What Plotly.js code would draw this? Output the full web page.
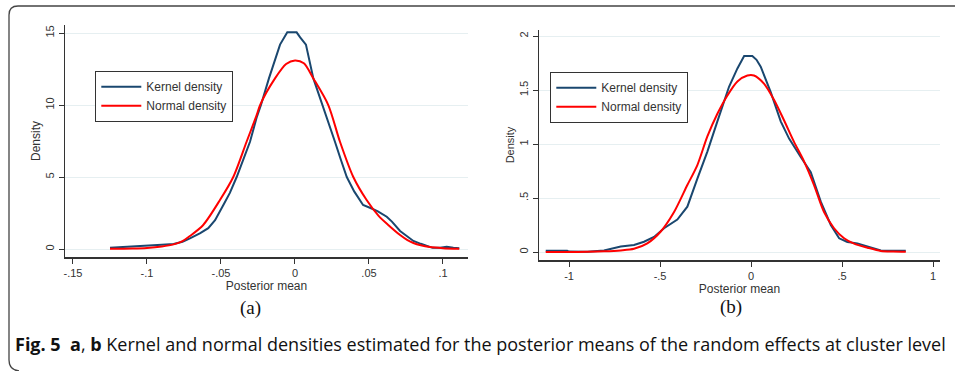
<!DOCTYPE html>
<html>
<head>
<meta charset="utf-8">
<script src="https://cdn.plot.ly/plotly-3.0.1.min.js"></script>
<style>html,body{margin:0;padding:0;background:#fff;}#chart{width:955px;height:371px;}</style>
</head>
<body>
<div id="chart"></div>
<script>
// ---- Panel (a) ----
const aKernelX = [-0.125,-0.115,-0.100,-0.090,-0.082,-0.076,-0.071,-0.064,-0.0586,-0.054,-0.0484,-0.044,-0.0394,-0.035,-0.0304,-0.026,-0.023,-0.0176,-0.0101,-0.0052,0.0011,0.0035,0.0074,0.0124,0.0187,0.023,0.027,0.031,0.035,0.040,0.046,0.051,0.056,0.062,0.0655,0.071,0.076,0.080,0.085,0.089,0.093,0.098,0.1025,0.107,0.111];
const aKernelY = [0.08,0.15,0.28,0.30,0.35,0.50,0.74,1.10,1.45,2.00,3.06,3.90,5.00,6.20,7.45,9.10,10.00,11.85,14.20,15.05,15.05,14.70,14.20,11.85,10.00,8.70,7.45,6.20,5.00,4.00,3.06,2.85,2.62,2.24,1.90,1.25,0.85,0.56,0.36,0.23,0.08,0.08,0.15,0.08,0.05];
const aNormalX = [-0.125,-0.110,-0.100,-0.090,-0.082,-0.076,-0.071,-0.062,-0.0507,-0.0417,-0.0327,-0.0259,-0.0236,-0.0135,-0.006,0.0,0.006,0.0124,0.0225,0.0304,0.0394,0.0484,0.0565,0.063,0.071,0.076,0.080,0.085,0.091,0.100,0.111];
const aNormalY = [0.01,0.03,0.07,0.17,0.32,0.55,0.90,1.67,3.40,5.00,7.45,9.30,10.00,11.85,12.85,13.10,12.90,11.85,10.00,7.45,5.00,3.40,2.30,1.67,0.97,0.62,0.42,0.26,0.14,0.06,0.02];
const aTickVals = [-0.15,-0.1,-0.05,0,0.05,0.1];
const aTickText = ['-.15','-.1','-.05','0','.05','.1'];
const aYTickVals = [0,5,10,15];
const aYTickText = ['0','5','10','15'];

// ---- Panel (b) ----
const bKernelX = [-1.128,-1.010,-1.000,-0.900,-0.808,-0.716,-0.643,-0.588,-0.533,-0.478,-0.405,-0.350,-0.295,-0.240,-0.185,-0.121,-0.075,-0.038,0.007,0.030,0.053,0.108,0.163,0.209,0.273,0.328,0.383,0.438,0.484,0.529,0.584,0.640,0.713,0.780,0.850];
const bKernelY = [0.012,0.012,0.004,0.003,0.015,0.050,0.065,0.095,0.140,0.220,0.300,0.420,0.680,0.930,1.210,1.530,1.700,1.815,1.815,1.780,1.716,1.480,1.210,1.050,0.880,0.740,0.466,0.250,0.127,0.093,0.080,0.050,0.015,0.012,0.012];
const bNormalX = [-1.128,-1.000,-0.900,-0.808,-0.716,-0.643,-0.570,-0.496,-0.423,-0.350,-0.295,-0.240,-0.185,-0.130,-0.075,-0.020,0.016,0.071,0.126,0.181,0.236,0.291,0.346,0.401,0.456,0.511,0.566,0.640,0.713,0.780,0.850];
const bNormalY = [0.0,0.0,0.002,0.006,0.015,0.030,0.080,0.190,0.370,0.620,0.805,1.070,1.280,1.450,1.580,1.635,1.635,1.560,1.410,1.220,1.020,0.840,0.620,0.370,0.220,0.127,0.077,0.040,0.010,0.004,0.002];
const bTickVals = [-1,-0.5,0,0.5,1];
const bTickText = ['-1','-.5','0','.5','1'];
const bYTickVals = [0,0.5,1,1.5,2];
const bYTickText = ['0','.5','1','1.5','2'];

const seriesNames = ['Kernel density','Normal density'];
const navy = '#1a476f', red = '#ff0000';
const FAM = 'Liberation Sans, Arial, sans-serif';
const axisFont = {family:FAM, size:11, color:'#333'};

const traces = [
  {x:aKernelX, y:aKernelY, name:seriesNames[0], mode:'lines', line:{color:navy,width:2}, xaxis:'x', yaxis:'y', legend:'legend'},
  {x:aNormalX, y:aNormalY, name:seriesNames[1], mode:'lines', line:{color:red,width:2,shape:'spline',smoothing:0.8}, xaxis:'x', yaxis:'y', legend:'legend'},
  {x:bKernelX, y:bKernelY, name:seriesNames[0], mode:'lines', line:{color:navy,width:2}, xaxis:'x2', yaxis:'y2', legend:'legend2'},
  {x:bNormalX, y:bNormalY, name:seriesNames[1], mode:'lines', line:{color:red,width:2,shape:'spline',smoothing:0.8}, xaxis:'x2', yaxis:'y2', legend:'legend2'}
];

function xax(dom, rng, tv, tt){
  return {domain:dom, range:rng, tickvals:tv, ticktext:tt, showline:true, linecolor:'#333', linewidth:1.5,
    ticks:'outside', ticklen:5, tickcolor:'#333', tickwidth:1, showgrid:false, zeroline:false,
    tickfont:axisFont, title:{text:'Posterior mean', font:{family:FAM, size:12, color:'#333'}, standoff:0}};
}
function yax(dom, rng, tv, tt, anchor, tsize){
  return {domain:dom, range:rng, tickvals:tv, ticktext:tt, showline:true, linecolor:'#333', linewidth:1.5,
    ticks:'outside', ticklen:5, tickcolor:'#333', tickwidth:1, showgrid:true, gridcolor:'#e6eff1', gridwidth:1, zeroline:false,
    tickangle:-90, tickfont:axisFont, anchor:anchor,
    title:{text:'Density', font:{family:FAM, size:tsize, color:'#333'}, standoff:1}};
}
const W=955, H=371;
const px = v => v/W, py = v => (H-v)/H;

const layout = {
  width:W, height:H, margin:{l:0,r:0,t:0,b:0}, paper_bgcolor:'#fff', plot_bgcolor:'#fff',
  showlegend:true,
  xaxis: Object.assign(xax([px(65),px(468)], [-0.1554,0.1169], aTickVals, aTickText), {anchor:'y'}),
  yaxis: yax([py(257),py(25)], [-0.556,15.56], aYTickVals, aYTickText, 'x', 12),
  xaxis2: Object.assign(xax([px(539),px(940)], [-1.165,1.038], bTickVals, bTickText), {anchor:'y2'}),
  yaxis2: yax([py(260),py(30)], [-0.074,2.056], bYTickVals, bYTickText, 'x2', 11),
  legend: {x:px(95), y:py(71), xanchor:'left', yanchor:'top', bgcolor:'#fff', bordercolor:'#333', borderwidth:1.3,
    font:{family:FAM, size:12, color:'#333'}, tracegroupgap:0, itemwidth:40},
  legend2: {x:px(550), y:py(72), xanchor:'left', yanchor:'top', bgcolor:'#fff', bordercolor:'#333', borderwidth:1.3,
    font:{family:FAM, size:12, color:'#333'}, tracegroupgap:0, itemwidth:40},
  annotations:[
    {xref:'paper', yref:'paper', x:px(250), y:py(308), text:'(a)', showarrow:false, xanchor:'center', yanchor:'middle',
      font:{family:'Liberation Serif, Times New Roman, serif', size:19, color:'#111'}},
    {xref:'paper', yref:'paper', x:px(731), y:py(307), text:'(b)', showarrow:false, xanchor:'center', yanchor:'middle',
      font:{family:'Liberation Serif, Times New Roman, serif', size:19, color:'#111'}},
    {xref:'paper', yref:'paper', x:px(13), y:py(344), text:'<b>Fig. 5  a</b>, <b>b</b> Kernel and normal densities estimated for the posterior means of the random effects at cluster level',
      showarrow:false, xanchor:'left', yanchor:'middle', font:{family:'Open Sans, sans-serif', size:18, color:'#111'}}
  ],
  shapes:[
    {type:'path', xref:'paper', yref:'paper', line:{color:'#444', width:1.3},
     path:'M 1.0,'+py(6)+' L '+px(18)+','+py(6)+' Q '+px(9)+','+py(6)+' '+px(9)+','+py(15)+' L '+px(9)+','+py(360)+' Q '+px(9)+','+py(370)+' '+px(19)+','+py(371)}
  ]
};
Plotly.newPlot('chart', traces, layout, {displayModeBar:false, staticPlot:true});
</script>
</body>
</html>
